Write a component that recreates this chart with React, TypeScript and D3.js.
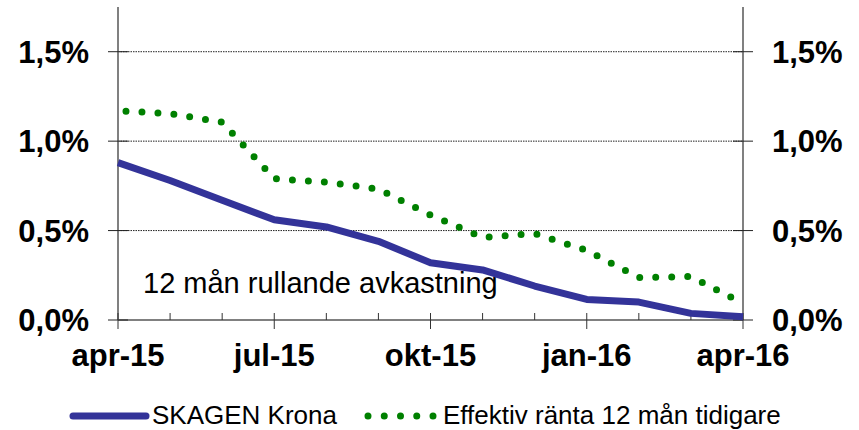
import { scalePoint, scaleLinear, line } from "d3";

const months = [
  "apr-15", "maj-15", "jun-15", "jul-15", "aug-15", "sep-15", "okt-15",
  "nov-15", "dec-15", "jan-16", "feb-16", "mar-16", "apr-16",
];
const skagenKrona = [0.88, 0.78, 0.67, 0.56, 0.52, 0.44, 0.32, 0.28, 0.19, 0.115, 0.1, 0.037, 0.018];
const effektivRanta = [1.17, 1.154, 1.106, 0.79, 0.771, 0.732, 0.587, 0.462, 0.483, 0.389, 0.237, 0.243, 0.093];
const yTicks = [0, 0.5, 1.0, 1.5];
const yTickLabels = ["0,0%", "0,5%", "1,0%", "1,5%"];
const xLabelMonths = ["apr-15", "jul-15", "okt-15", "jan-16", "apr-16"];
const seriesNames = ["SKAGEN Krona", "Effektiv ränta 12 mån tidigare"];
const note = "12 mån rullande avkastning";

const W = 859;
const H = 430;
const left = 118;
const right = 743;
const top = 7;
const bottom = 320;

const font = "Arial, 'Liberation Sans', sans-serif";
const blue = "#333399";
const green = "#008000";

const App = () => {
  const x = scalePoint<string>().domain(months).range([left, right]);
  const y = scaleLinear().domain([0, 1.75]).range([bottom, top]);

  const mk = (vals: number[]) =>
    line<number>()
      .x((_, i) => x(months[i])!)
      .y((d) => y(d))(vals)!;

  return (
    <svg
      width={W}
      height={H}
      style={{ position: "absolute", left: 0, top: 0, background: "#fff" }}
      fontFamily={font}
    >
      {/* gridlines */}
      {yTicks
        .filter((t) => t > 0)
        .map((t) => (
          <line
            key={"g" + t}
            x1={left}
            x2={right}
            y1={y(t)}
            y2={y(t)}
            stroke="#222"
            strokeWidth={1}
            strokeDasharray="1.5 1"
          />
        ))}

      {/* axes */}
      <line x1={left} x2={left} y1={top} y2={bottom} stroke="#808080" strokeWidth={2} />
      <line x1={right} x2={right} y1={top} y2={bottom} stroke="#808080" strokeWidth={2} />
      <line x1={left} x2={right} y1={bottom} y2={bottom} stroke="#808080" strokeWidth={2} />

      {/* y ticks and labels */}
      {yTicks.map((t, i) => (
        <g key={"y" + t}>
          <line x1={left - 10} x2={left + 10} y1={y(t)} y2={y(t)} stroke="#222" strokeWidth={1} />
          <line x1={right - 10} x2={right + 10} y1={y(t)} y2={y(t)} stroke="#222" strokeWidth={1} />
          <text
            x={89}
            y={y(t) + 11}
            textAnchor="end"
            fontSize={31}
            fontWeight="bold"
            fill="#000"
          >
            {yTickLabels[i]}
          </text>
          <text x={772} y={y(t) + 11} fontSize={31} fontWeight="bold" fill="#000">
            {yTickLabels[i]}
          </text>
        </g>
      ))}

      {/* x ticks */}
      {months.map((m) => {
        const major = xLabelMonths.includes(m);
        return (
          <line
            key={"x" + m}
            x1={x(m)!}
            x2={x(m)!}
            y1={bottom - 7}
            y2={major ? bottom + 9 : bottom}
            stroke="#333"
            strokeWidth={1}
          />
        );
      })}
      {xLabelMonths.map((m) => (
        <text
          key={"xl" + m}
          x={x(m)!}
          y={366}
          textAnchor="middle"
          fontSize={31}
          fontWeight="bold"
          fill="#000"
        >
          {m}
        </text>
      ))}

      {/* note */}
      <text x={143} y={293} fontSize={29} fill="#000">
        {note}
      </text>

      {/* series */}
      <path d={mk(skagenKrona)} fill="none" stroke={blue} strokeWidth={7} strokeLinejoin="round" />
      <path
        d={mk(effektivRanta)}
        fill="none"
        stroke={green}
        strokeWidth={7}
        strokeLinecap="round"
        strokeDasharray="0 16"
        strokeDashoffset={8}
      />

      {/* legend */}
      <line x1={73} x2={146} y1={416} y2={416} stroke={blue} strokeWidth={7} strokeLinecap="round" />
      <text x={152} y={424} fontSize={26} fill="#000">
        {seriesNames[0]}
      </text>
      <line
        x1={368}
        x2={434}
        y1={416}
        y2={416}
        stroke={green}
        strokeWidth={7}
        strokeLinecap="round"
        strokeDasharray="0 16.25"
      />
      <text x={443} y={424} fontSize={26} fill="#000">
        {seriesNames[1]}
      </text>
    </svg>
  );
};

export default App;
